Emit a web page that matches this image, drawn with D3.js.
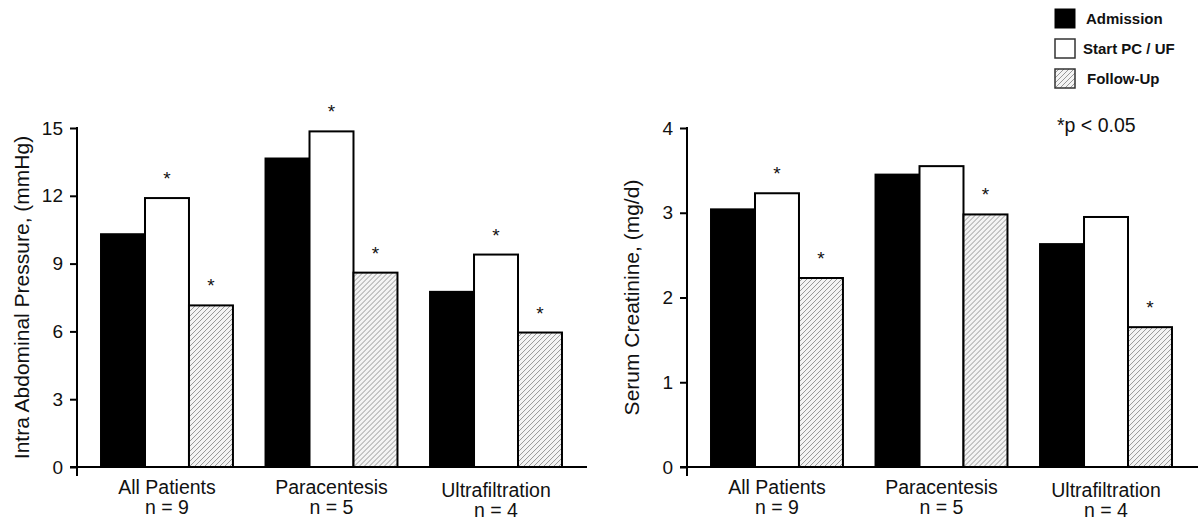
<!DOCTYPE html>
<html>
<head>
<meta charset="utf-8">
<script src="https://cdn.jsdelivr.net/npm/d3@7"></script>
<style>
  body { margin: 0; background: #fff; }
  text { font-family: "Liberation Sans", Arial, sans-serif; fill: #111; }
</style>
</head>
<body>
<div id="chart"></div>
<script>
// groups and series
const categories = ["All Patients", "Paracentesis", "Ultrafiltration"];
const groupN = ["n = 9", "n = 5", "n = 4"];
const seriesNames = ["Admission", "Start PC / UF", "Follow-Up"];

// intra abdominal pressure (mmHg)
const iapAdmission = [10.3, 13.65, 7.75];
const iapStart = [11.9, 14.85, 9.4];
const iapFollowUp = [7.15, 8.6, 5.95];
const iapStars = [[0, 1, 1], [0, 1, 1], [0, 1, 1]];
const iapTicks = [0, 3, 6, 9, 12, 15];

// serum creatinine (mg/d)
const creatAdmission = [3.04, 3.45, 2.63];
const creatStart = [3.23, 3.55, 2.95];
const creatFollowUp = [2.23, 2.98, 1.65];
const creatStars = [[0, 1, 1], [0, 0, 1], [0, 0, 1]];
const creatTicks = [0, 1, 2, 3, 4];

const width = 1198, height = 525;
const svg = d3.select("#chart").append("svg")
    .attr("width", width)
    .attr("height", height);

// hatch for follow-up bars
const defs = svg.append("defs");
const pat = defs.append("pattern")
    .attr("id", "hatch")
    .attr("patternUnits", "userSpaceOnUse")
    .attr("width", 5).attr("height", 5);
pat.append("rect").attr("width", 5).attr("height", 5).attr("fill", "#f4f4f4");
pat.append("path")
    .attr("d", "M-1,1 l2,-2 M0,5 l5,-5 M4,6 l2,-2")
    .attr("stroke", "#808080")
    .attr("stroke-width", 0.8);

const fills = ["#000", "#fff", "url(#hatch)"];

function drawPanel(opt) {
    const y = d3.scaleLinear().domain([0, opt.ticks[opt.ticks.length - 1]]).range([467, 128]);
    const x = d3.scaleBand().domain(categories)
        .range([opt.x0, opt.x0 + 509])
        .paddingInner(0.198).paddingOuter(0.146);
    const xs = d3.scaleBand().domain(seriesNames).range([0, x.bandwidth()]);

    const g = svg.append("g");

    // bars
    categories.forEach((c, i) => {
        const vals = [opt.a[i], opt.s[i], opt.f[i]].map((v, j) => ({ v: v, j: j, star: opt.stars[i][j] }));
        const grp = g.append("g").attr("transform", `translate(${x(c)},0)`);
        grp.selectAll("rect")
            .data(vals)
            .enter().append("rect")
            .attr("x", d => xs(seriesNames[d.j]))
            .attr("y", d => y(d.v))
            .attr("width", xs.bandwidth())
            .attr("height", d => y(0) - y(d.v))
            .attr("fill", d => fills[d.j])
            .attr("stroke", "#000")
            .attr("stroke-width", 2);
        grp.selectAll("text.star")
            .data(vals.filter(d => d.star))
            .enter().append("text")
            .attr("class", "star")
            .attr("x", d => xs(seriesNames[d.j]) + xs.bandwidth() / 2)
            .attr("y", d => y(d.v) - 13)
            .attr("text-anchor", "middle")
            .style("font-size", "19px")
            .text("*");
    });

    // y axis
    const yAxis = d3.axisLeft(y).tickValues(opt.ticks).tickFormat(d3.format("d"))
        .tickSize(7).tickPadding(7).tickSizeOuter(0);
    const ax = g.append("g").attr("transform", `translate(${opt.x0},0)`).call(yAxis);
    ax.select(".domain").remove();
    ax.selectAll(".tick line").attr("stroke", "#000").attr("stroke-width", 2);
    ax.selectAll(".tick text").style("font-size", "19px").attr("fill", "#111");
    g.append("line")
        .attr("x1", opt.x0).attr("x2", opt.x0)
        .attr("y1", y(opt.ticks[opt.ticks.length - 1]) - 1).attr("y2", 476)
        .attr("stroke", "#000").attr("stroke-width", 2);

    // x axis line
    g.append("line")
        .attr("x1", opt.x0 - 7).attr("x2", opt.xEnd)
        .attr("y1", y(0)).attr("y2", y(0))
        .attr("stroke", "#000").attr("stroke-width", 2);

    // category labels
    categories.forEach((c, i) => {
        const cx = x(c) + x.bandwidth() / 2;
        const dy = i === 2 ? 3 : 0;
        g.append("text").attr("x", cx).attr("y", 494 + dy)
            .attr("text-anchor", "middle").style("font-size", "19.5px").text(c);
        g.append("text").attr("x", cx).attr("y", 514 + dy)
            .attr("text-anchor", "middle").style("font-size", "19.5px").text(groupN[i]);
    });

    // y title
    g.append("text")
        .attr("transform", `translate(${opt.x0 - 48},${(y(0) + y(opt.ticks[opt.ticks.length - 1])) / 2}) rotate(-90)`)
        .attr("text-anchor", "middle")
        .style("font-size", "21px")
        .text(opt.title);
}

drawPanel({
    x0: 77, xEnd: 587, ticks: iapTicks,
    a: iapAdmission, s: iapStart, f: iapFollowUp, stars: iapStars,
    title: "Intra Abdominal Pressure, (mmHg)"
});
drawPanel({
    x0: 687, xEnd: 1198, ticks: creatTicks,
    a: creatAdmission, s: creatStart, f: creatFollowUp, stars: creatStars,
    title: "Serum Creatinine, (mg/d)"
});

// legend
const legend = svg.append("g").attr("transform", "translate(1055,8)");
seriesNames.forEach((name, i) => {
    legend.append("rect")
        .attr("x", 0).attr("y", i * 30 + 1)
        .attr("width", 20).attr("height", 19)
        .attr("fill", fills[i])
        .attr("stroke", i === 0 ? "#000" : "#333")
        .attr("stroke-width", i === 0 ? 1 : 1.5);
    legend.append("text")
        .attr("x", [31, 28, 32][i]).attr("y", i * 30 + 16)
        .style("font-size", "15px")
        .style("font-weight", "bold")
        .text(name);
});

svg.append("text")
    .attr("x", 1057).attr("y", 132)
    .style("font-size", "19.5px")
    .text("*p < 0.05");
</script>
</body>
</html>
